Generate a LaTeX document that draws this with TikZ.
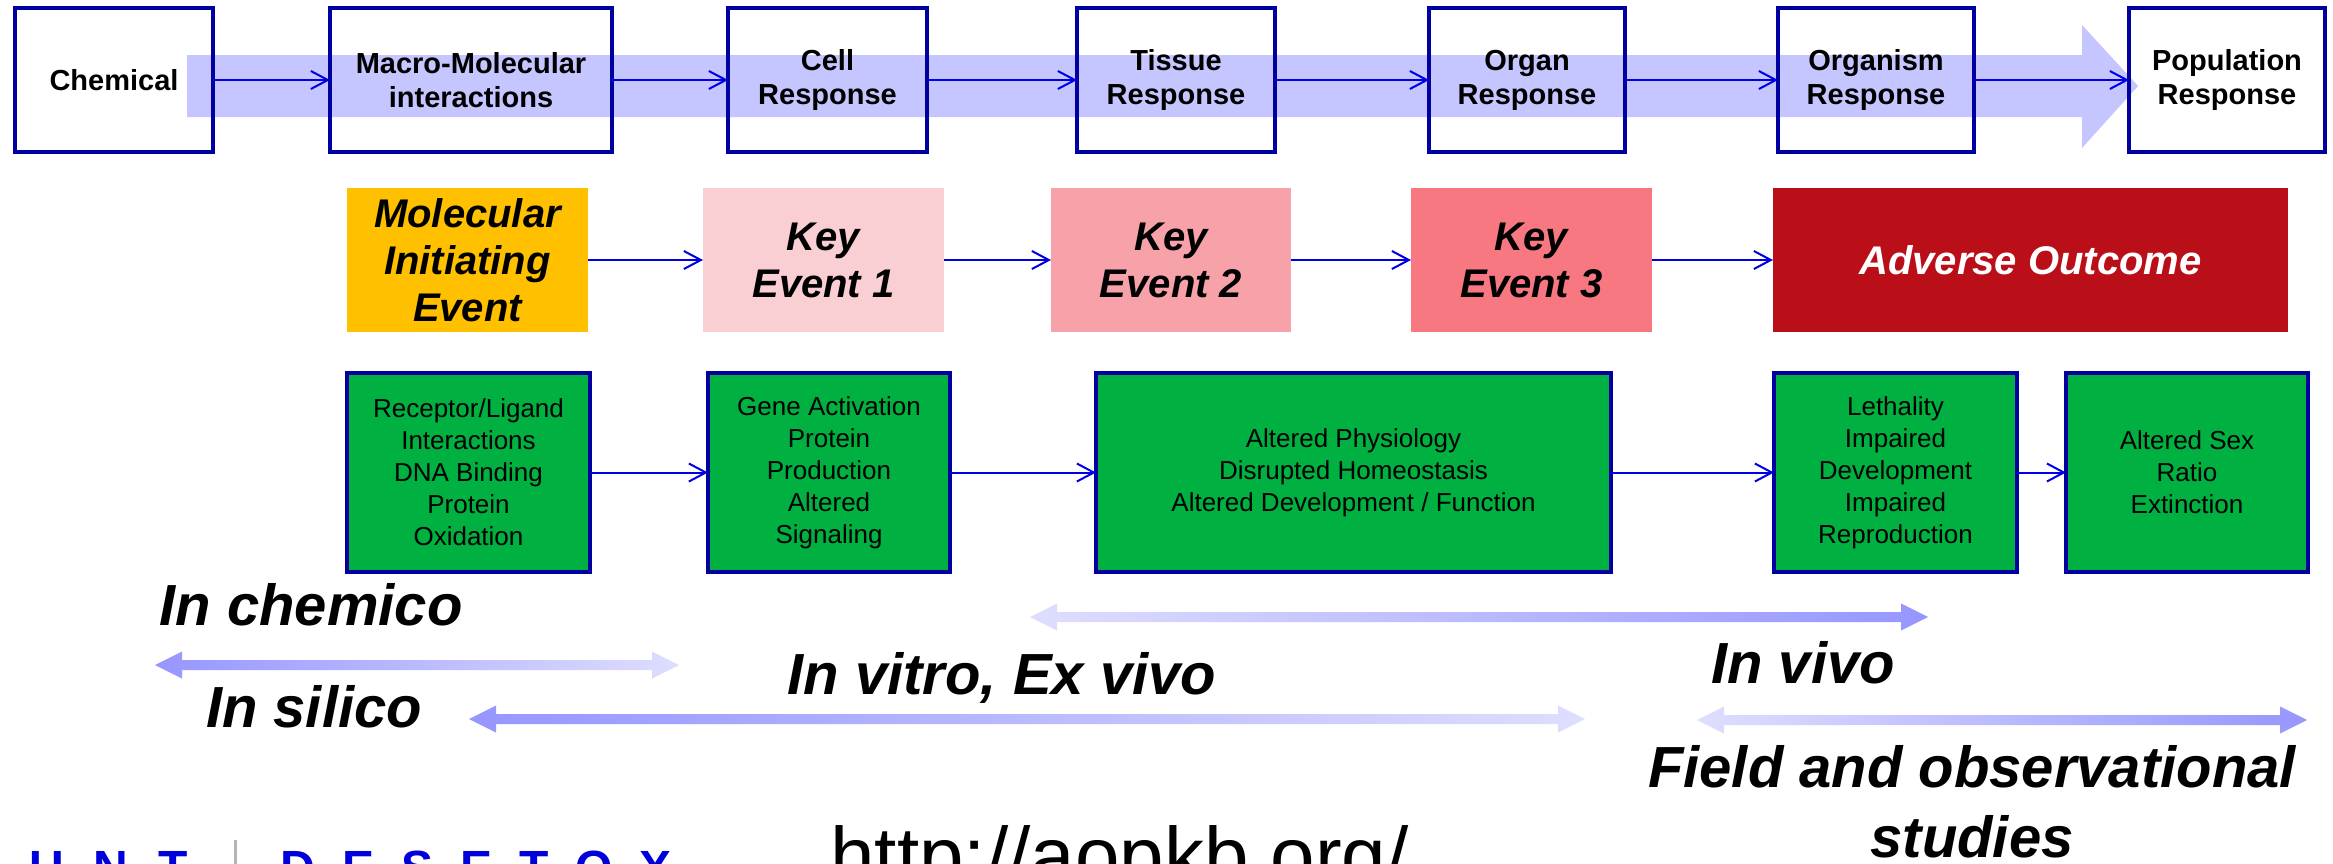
\documentclass[tikz,border=0pt]{standalone}
\usepackage{fontspec}
\setmainfont{Liberation Sans}
\usetikzlibrary{arrows.meta}
\definecolor{navyb}{RGB}{0,0,160}
\definecolor{bandc}{RGB}{197,197,255}
\definecolor{connb}{RGB}{0,0,230}
\definecolor{mieC}{RGB}{255,192,0}
\definecolor{keA}{RGB}{249,207,211}
\definecolor{keB}{RGB}{247,161,168}
\definecolor{keC}{RGB}{247,120,128}
\definecolor{aoC}{RGB}{186,14,24}
\definecolor{grn}{RGB}{0,176,64}
\definecolor{rdark}{RGB}{150,150,255}
\definecolor{rlight}{RGB}{222,222,255}
\definecolor{logob}{RGB}{0,0,220}
\definecolor{sepg}{RGB}{180,180,180}
\newcommand\rangearrow[5]{\shade[left color=#4,right color=#5] (#1,#3) -- ({#1+27},{#3-13.5}) -- ({#1+27},{#3-5}) -- ({#2-27},{#3-5}) -- ({#2-27},{#3-13.5}) -- (#2,#3) -- ({#2-27},{#3+13.5}) -- ({#2-27},{#3+5}) -- ({#1+27},{#3+5}) -- ({#1+27},{#3+13.5}) -- cycle;}
\begin{document}
\begin{tikzpicture}[x=0.5pt,y=-0.5pt,
 lvl/.style={draw=navyb,line width=2.25pt,minimum height=72pt,inner sep=0pt,outer sep=0pt,align=center,font=\fontsize{14.5pt}{17pt}\selectfont\bfseries},
 evt/.style={minimum height=72pt,inner sep=0pt,outer sep=0pt,align=center,font=\fontsize{20pt}{23.5pt}\selectfont\bfseries\itshape},
 eff/.style={draw=navyb,fill=grn,line width=2.25pt,minimum height=99.5pt,inner sep=0pt,outer sep=0pt,align=center,font=\fontsize{13pt}{16pt}\selectfont},
 conn/.style={draw=connb,line width=1pt,-{Straight Barb[length=8.5pt,width=9pt]}},
 rng/.style={font=\fontsize{29pt}{35pt}\selectfont\bfseries\itshape,inner sep=0pt,anchor=base},
 logo/.style={font=\fontsize{24pt}{28pt}\selectfont\bfseries,text=logob,inner sep=0pt,anchor=base west}
]
\useasboundingbox (0,0) rectangle (2333,863);
\fill[white] (0,0) rectangle (2333,863);
% big background arrow
\fill[bandc] (187,55) -- (2082,55) -- (2082,25) -- (2138,86) -- (2082,148) -- (2082,117) -- (187,117) -- cycle;
% top row
\node[lvl,minimum width=99pt] (chem) at (114,80) {Chemical};
\node[lvl,minimum width=141pt] (macro) at (471,80) {Macro-Molecular\\interactions};
\node[lvl,minimum width=99.5pt] (cell) at (827.5,80) {Cell\\Response};
\node[lvl,minimum width=99pt] (tissue) at (1176,80) {Tissue\\Response};
\node[lvl,minimum width=98pt] (organ) at (1527,80) {Organ\\Response};
\node[lvl,minimum width=98pt] (organism) at (1876,80) {Organism\\Response};
\node[lvl,minimum width=98pt] (popul) at (2227,80) {Population\\Response};
\draw[conn] (chem.east) -- (macro.west);
\draw[conn] (macro.east) -- (cell.west);
\draw[conn] (cell.east) -- (tissue.west);
\draw[conn] (tissue.east) -- (organ.west);
\draw[conn] (organ.east) -- (organism.west);
\draw[conn] (organism.east) -- (popul.west);
% events row
\node[evt,fill=mieC,minimum width=120.5pt] (mie) at (467.5,260) {Molecular\\Initiating\\Event};
\node[evt,fill=keA,minimum width=120.5pt] (ke1) at (823.5,260) {Key\\Event 1};
\node[evt,fill=keB,minimum width=120pt] (ke2) at (1171,260) {Key\\Event 2};
\node[evt,fill=keC,minimum width=120.5pt] (ke3) at (1531.5,260) {Key\\Event 3};
\node[evt,fill=aoC,text=white,minimum width=257.5pt] (ao) at (2030.5,260) {Adverse Outcome};
\draw[conn] (mie.east) -- (ke1.west);
\draw[conn] (ke1.east) -- (ke2.west);
\draw[conn] (ke2.east) -- (ke3.west);
\draw[conn] (ke3.east) -- (ao.west);
% effects row
\node[eff,minimum width=121.5pt] (g1) at (468.5,472.5) {Receptor/Ligand\\Interactions\\DNA Binding\\Protein\\Oxidation};
\node[eff,minimum width=121pt] (g2) at (829,472.5) {Gene Activation\\Protein\\Production\\Altered\\Signaling};
\node[eff,minimum width=257.5pt] (g3) at (1353.5,472.5) {Altered Physiology\\Disrupted Homeostasis\\Altered Development / Function};
\node[eff,minimum width=121.5pt] (g4) at (1895.5,472.5) {Lethality\\Impaired\\Development\\Impaired\\Reproduction};
\node[eff,minimum width=121pt] (g5) at (2187,472.5) {Altered Sex\\Ratio\\Extinction};
\draw[conn] (g1.east) -- (g2.west);
\draw[conn] (g2.east) -- (g3.west);
\draw[conn] (g3.east) -- (g4.west);
\draw[conn] (g4.east) -- (g5.west);
% range arrows
\rangearrow{155}{679}{665}{rdark}{rlight}
\rangearrow{469}{1585}{719}{rdark}{rlight}
\rangearrow{1030}{1928}{617}{rlight}{rdark}
\rangearrow{1697}{2307}{720}{rlight}{rdark}
% labels
\node[rng] (lchem) at (311,625) {In chemico};
\node[rng] (lsil) at (314,727) {In silico};
\node[rng] (lvit) at (1002,694) {In vitro, Ex vivo};
\node[rng] (lviv) at (1803,683) {In vivo};
\node[rng,align=center] (lfield) at (1972,857) {Field and observational\\studies};
% bottom logos and url
\node[logo] (hunt) at (-36,884) {H\hspace{15pt}U\hspace{15pt}N\hspace{15pt}T};
\draw[sepg,line width=1.5pt] (235,840) -- (235,880);
\node[logo] (detox) at (280,884) {D\hspace{13.5pt}E\hspace{13.5pt}S\hspace{13.5pt}E\hspace{13.5pt}T\hspace{13.5pt}O\hspace{13.5pt}X};
\node[font=\fontsize{40pt}{48pt}\selectfont,inner sep=0pt,anchor=base west] (url) at (830,883) {http://aopkb.org/};
\end{tikzpicture}
\end{document}
